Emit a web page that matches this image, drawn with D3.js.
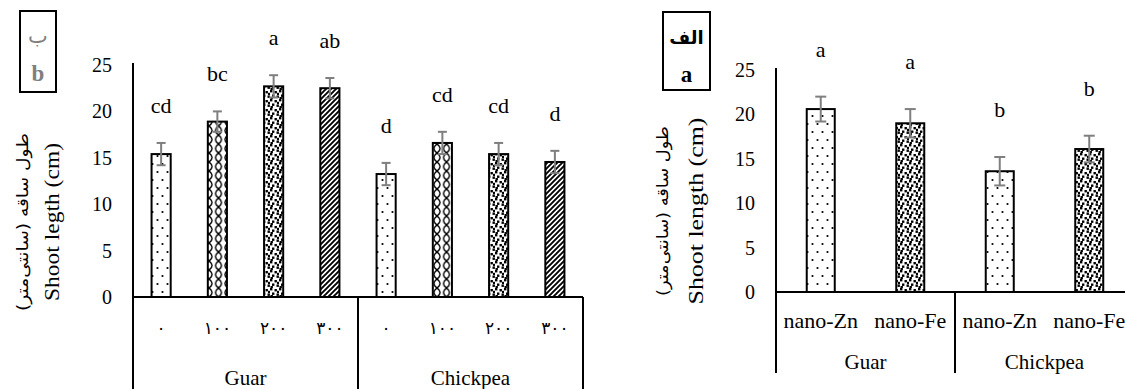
<!DOCTYPE html>
<html>
<head>
<meta charset="utf-8">
<script src="https://cdn.jsdelivr.net/npm/d3@7"></script>
<style>
  html, body { margin: 0; padding: 0; background: #fff; }
  svg { display: block; }
</style>
</head>
<body>
<div id="chart"></div>
<script>
// ---- data: panel b (dose levels) ----
const doseGroups = ['Guar', 'Chickpea'];
const doseLevels = ['۰', '۱۰۰', '۲۰۰', '۳۰۰'];
const doseMeans = [15.4, 18.9, 22.7, 22.5, 13.25, 16.6, 15.4, 14.55];
const doseErrors = [1.2, 1.1, 1.2, 1.1, 1.2, 1.2, 1.2, 1.2];
const doseLetters = ['cd', 'bc', 'a', 'ab', 'd', 'cd', 'cd', 'd'];
const dosePatterns = ['dots', 'lattice', 'confetti', 'stripes', 'dots', 'lattice', 'confetti', 'stripes'];

// ---- data: panel a (nano particle type) ----
const nanoGroups = ['Guar', 'Chickpea'];
const nanoTypes = ['nano-Zn', 'nano-Fe'];
const nanoMeans = [20.6, 19.0, 13.6, 16.1];
const nanoErrors = [1.4, 1.6, 1.6, 1.5];
const nanoLetters = ['a', 'a', 'b', 'b'];
const nanoPatterns = ['dots', 'confetti', 'dots', 'confetti'];

const yTicks = [0, 5, 10, 15, 20, 25];

const SERIF = 'Liberation Serif';
const FA = 'DejaVu Sans';

const width = 1125, height = 389;

const svg = d3.select('#chart')
  .append('svg')
  .attr('width', width)
  .attr('height', height)
  .style('font-family', SERIF);

// ============= Fill patterns =============
const defs = svg.append('defs');

const dots = defs.append('pattern')
  .attr('id', 'dots')
  .attr('patternUnits', 'userSpaceOnUse')
  .attr('width', 10).attr('height', 16);
dots.append('rect').attr('width', 10).attr('height', 16).attr('fill', '#fff');
[[2.5, 4], [7.5, 12]].forEach(p =>
  dots.append('circle').attr('cx', p[0]).attr('cy', p[1]).attr('r', 1.1).attr('fill', '#000'));

const lattice = defs.append('pattern')
  .attr('id', 'lattice')
  .attr('patternUnits', 'userSpaceOnUse')
  .attr('width', 9.5).attr('height', 9);
lattice.append('rect').attr('width', 9.5).attr('height', 9).attr('fill', '#fff');
lattice.append('path')
  .attr('d', 'M0,0 Q6,4.5 0,9 M9.5,0 Q3.5,4.5 9.5,9')
  .attr('fill', 'none').attr('stroke', '#000').attr('stroke-width', 1.4);

const confetti = defs.append('pattern')
  .attr('id', 'confetti')
  .attr('patternUnits', 'userSpaceOnUse')
  .attr('width', 9).attr('height', 9);
confetti.append('rect').attr('width', 9).attr('height', 9).attr('fill', '#fff');
[[0, 0], [4.5, 1], [2, 4.5], [6.5, 5.5], [7, 2.8], [0.5, 7]].forEach(p =>
  confetti.append('rect').attr('x', p[0]).attr('y', p[1]).attr('width', 2.4).attr('height', 2.4).attr('fill', '#000'));

const stripes = defs.append('pattern')
  .attr('id', 'stripes')
  .attr('patternUnits', 'userSpaceOnUse')
  .attr('width', 5).attr('height', 5);
stripes.append('rect').attr('width', 5).attr('height', 5).attr('fill', '#fff');
stripes.append('path')
  .attr('d', 'M-1,6 L6,-1 M-1,1 L1,-1 M4,6 L6,4')
  .attr('stroke', '#000').attr('stroke-width', 1.9);

// ============= Panel drawing =============
function drawPanel(cfg){
  const n = cfg.means.length;
  const x = d3.scaleBand()
    .domain(d3.range(n))
    .range(cfg.xRange)
    .paddingInner(cfg.padInner)
    .paddingOuter(cfg.padInner / 2);
  const y = d3.scaleLinear().domain([0, 25]).range(cfg.yRange);
  const g = svg.append('g');
  const step = x.step();
  const perGroup = cfg.levels.length;

  // y axis: plain line, no ticks
  const yAxis = d3.axisLeft(y).tickValues(yTicks).tickSize(0).tickPadding(cfg.tickPad);
  const ag = g.append('g')
    .attr('transform', 'translate(' + cfg.xRange[0] + ',0)')
    .call(yAxis)
    .attr('font-family', SERIF)
    .attr('font-size', 20);
  ag.select('.domain').remove();
  ag.selectAll('text').attr('fill', '#000');
  g.append('line')
    .attr('x1', cfg.xRange[0]).attr('x2', cfg.xRange[0])
    .attr('y1', y(25) - 2).attr('y2', cfg.boxBottom)
    .attr('stroke', '#000').attr('stroke-width', 2);

  // baseline and group dividers
  g.append('line')
    .attr('x1', cfg.xRange[0]).attr('x2', cfg.xRange[1])
    .attr('y1', y(0)).attr('y2', y(0))
    .attr('stroke', '#000').attr('stroke-width', 2);
  d3.range(1, cfg.groups.length + 1).forEach(k => {
    const gx = cfg.xRange[0] + k * perGroup * step;
    g.append('line')
      .attr('x1', gx).attr('x2', gx)
      .attr('y1', y(0)).attr('y2', cfg.boxBottom)
      .attr('stroke', '#000').attr('stroke-width', 2);
  });

  // bars
  g.selectAll('.bar')
    .data(cfg.means)
    .enter()
    .append('rect')
    .attr('class', 'bar')
    .attr('x', (d, i) => x(i))
    .attr('width', x.bandwidth())
    .attr('y', d => y(d))
    .attr('height', d => y(0) - y(d))
    .attr('fill', (d, i) => 'url(#' + cfg.patterns[i] + ')')
    .attr('stroke', '#000')
    .attr('stroke-width', 2);

  // error bars
  const cx = i => x(i) + x.bandwidth() / 2;
  const eg = g.append('g')
    .attr('stroke', '#7f7f7f')
    .attr('stroke-width', 2);
  cfg.means.forEach((m, i) => {
    const e = cfg.errors[i];
    eg.append('line').attr('x1', cx(i)).attr('x2', cx(i)).attr('y1', y(m - e)).attr('y2', y(m + e));
    eg.append('line').attr('x1', cx(i) - cfg.cap).attr('x2', cx(i) + cfg.cap).attr('y1', y(m + e)).attr('y2', y(m + e));
    eg.append('line').attr('x1', cx(i) - cfg.cap).attr('x2', cx(i) + cfg.cap).attr('y1', y(m - e)).attr('y2', y(m - e));
  });

  // significance letters
  g.selectAll('.sig')
    .data(cfg.letters)
    .enter()
    .append('text')
    .attr('x', (d, i) => cx(i))
    .attr('y', (d, i) => y(cfg.means[i] + cfg.errors[i]) - cfg.letterGap)
    .attr('text-anchor', 'middle')
    .style('font-family', SERIF)
    .style('font-size', '22px')
    .text(d => d);

  // category labels
  g.selectAll('.lvl')
    .data(d3.range(n))
    .enter()
    .append('text')
    .attr('x', i => cx(i))
    .attr('y', cfg.levelY)
    .attr('text-anchor', 'middle')
    .style('font-family', cfg.levelFont)
    .style('font-size', cfg.levelSize)
    .text(i => cfg.levels[i % perGroup]);

  // group labels
  g.selectAll('.grp')
    .data(cfg.groups)
    .enter()
    .append('text')
    .attr('x', (d, k) => cfg.xRange[0] + (k + 0.5) * perGroup * step)
    .attr('y', cfg.groupY)
    .attr('text-anchor', 'middle')
    .style('font-family', SERIF)
    .style('font-size', '21px')
    .text(d => d);

  // axis titles (Persian + English)
  g.append('text')
    .attr('transform', 'translate(' + cfg.faX + ',' + cfg.titleY + ') rotate(-90)')
    .attr('text-anchor', 'middle')
    .attr('direction', 'rtl')
    .attr('textLength', cfg.faLen)
    .attr('lengthAdjust', 'spacingAndGlyphs')
    .style('font-family', FA)
    .style('font-size', '16px')
    .text('طول ساقه (سانتی‌متر)');
  g.append('text')
    .attr('transform', 'translate(' + cfg.enX + ',' + cfg.titleY + ') rotate(-90)')
    .attr('text-anchor', 'middle')
    .attr('textLength', cfg.enLen)
    .attr('lengthAdjust', 'spacingAndGlyphs')
    .style('font-family', SERIF)
    .style('font-size', '21px')
    .text(cfg.enTitle);

  // panel tag box
  const b = cfg.box;
  g.append('rect')
    .attr('x', b.x).attr('y', b.y).attr('width', b.w).attr('height', b.h)
    .attr('fill', '#fff').attr('stroke', '#000').attr('stroke-width', 2);
  g.append('text')
    .attr('x', b.x + b.w / 2).attr('y', b.y + 32)
    .attr('text-anchor', 'middle')
    .style('font-family', FA)
    .style('font-size', b.faSize)
    .style('font-weight', b.faWeight)
    .attr('fill', b.color)
    .text(b.fa);
  g.append('text')
    .attr('x', b.x + b.w / 2).attr('y', b.y + 70)
    .attr('text-anchor', 'middle')
    .style('font-family', SERIF)
    .style('font-size', '23px')
    .style('font-weight', 'bold')
    .attr('fill', b.color)
    .text(b.en);
}

// panel b (left)
drawPanel({
  groups: doseGroups, levels: doseLevels,
  means: doseMeans, errors: doseErrors, letters: doseLetters, patterns: dosePatterns,
  xRange: [133, 583], padInner: 0.66, yRange: [297, 65],
  tickPad: 21, boxBottom: 392, cap: 4.5, letterGap: 30,
  levelFont: FA, levelY: 334, levelSize: '17px', groupY: 385,
  faX: 28, enX: 59, titleY: 222, faLen: 178, enLen: 158, enTitle: 'Shoot legth (cm)',
  box: {x: 20, y: 11, w: 36, h: 81, fa: 'ب', en: 'b', color: '#7f7f7f', faSize: '21px', faWeight: 'normal'}
});

// panel a (right)
drawPanel({
  groups: nanoGroups, levels: nanoTypes,
  means: nanoMeans, errors: nanoErrors, letters: nanoLetters, patterns: nanoPatterns,
  xRange: [776, 1134], padInner: 0.687, yRange: [292, 70],
  tickPad: 21, boxBottom: 373, cap: 5.5, letterGap: 40,
  levelFont: SERIF, levelY: 328, levelSize: '22px', groupY: 369,
  faX: 668, enX: 703, titleY: 211, faLen: 170, enLen: 187, enTitle: 'Shoot length (cm)',
  box: {x: 663, y: 12, w: 47, h: 78, fa: 'الف', en: 'a', color: '#000', faSize: '18px', faWeight: 'bold'}
});
</script>
</body>
</html>
